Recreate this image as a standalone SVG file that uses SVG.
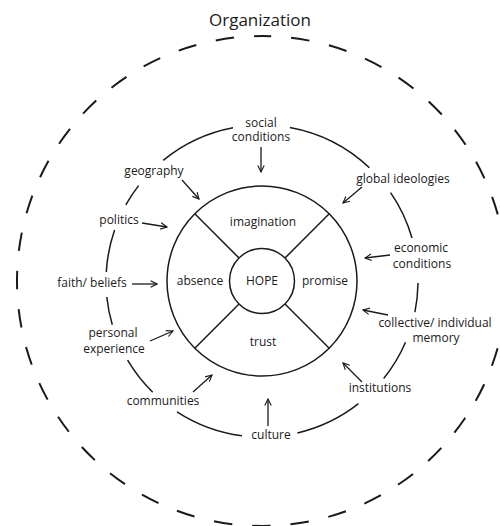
<svg xmlns="http://www.w3.org/2000/svg" width="500" height="526" viewBox="0 0 500 526">
<style>
text{font-family:"Open Sans","Liberation Sans",sans-serif;font-size:12px;fill:#1a1a1a;text-anchor:middle}
.title{font-size:17px}
.line{fill:none;stroke:#1a1a1a;stroke-width:1.5}
.dash{fill:none;stroke:#1a1a1a;stroke-width:2;stroke-dasharray:18.5 20;stroke-dashoffset:9.25}
.arr{fill:none;stroke:#1a1a1a;stroke-width:1.3;marker-end:url(#ah)}
</style>
<defs>
<marker id="ah" viewBox="0 0 10 10" refX="9" refY="5" markerWidth="8" markerHeight="8" markerUnits="userSpaceOnUse" orient="auto">
<path d="M1,1 L9,5 L1,9" fill="none" stroke="#1a1a1a" stroke-width="1.4"/>
</marker>
</defs>
<rect width="500" height="526" fill="#fff"/>
<g id="organization">
<path class="dash" d="M262 36 A245 245 0 1 1 262 526 A245 245 0 1 1 262 36"/>
<text class="title" x="260" y="26">Organization</text>
</g>
<g id="outer-ring">
<path class="line" d="M163.2 160.3 A156 156 0 0 1 233.0 127.7"/>
<path class="line" d="M125.8 204.9 A156 156 0 0 1 138.6 185.6"/>
<path class="line" d="M106.3 272.0 A156 156 0 0 1 114.6 230.0"/>
<path class="line" d="M112.3 324.8 A156 156 0 0 1 106.8 297.0"/>
<path class="line" d="M152.7 392.3 A156 156 0 0 1 127.6 360.2"/>
<path class="line" d="M241.9 435.7 A156 156 0 0 1 177.0 411.8"/>
<path class="line" d="M358.5 403.6 A156 156 0 0 1 297.4 432.9"/>
<path class="line" d="M405.5 342.2 A156 156 0 0 1 383.7 378.5"/>
<path class="line" d="M418.0 282.9 A156 156 0 0 1 414.9 312.1"/>
<path class="line" d="M390.6 192.6 A156 156 0 0 1 412.0 238.0"/>
<path class="line" d="M289.9 127.5 A156 156 0 0 1 369.4 167.8"/>
</g>
<g id="middle-ring">
<circle class="line" cx="262" cy="281" r="95"/>
<line class="line" x1="194.8" y1="213.8" x2="239.0" y2="258.0"/>
<line class="line" x1="329.2" y1="213.8" x2="285.0" y2="258.0"/>
<line class="line" x1="194.8" y1="348.2" x2="239.0" y2="304.0"/>
<line class="line" x1="329.2" y1="348.2" x2="285.0" y2="304.0"/>
<text x="263" y="226">imagination</text>
<text x="200" y="285">absence</text>
<text x="325" y="285">promise</text>
<text x="263" y="346">trust</text>
</g>
<g id="hope">
<circle class="line" cx="262" cy="281" r="32.5"/>
<text x="262" y="285">HOPE</text>
</g>
<g id="connectors">
<line class="arr" x1="261" y1="147" x2="261" y2="172"/>
<line class="arr" x1="182" y1="180" x2="199" y2="199"/>
<line class="arr" x1="142" y1="223" x2="167" y2="227"/>
<line class="arr" x1="132" y1="284" x2="157" y2="284"/>
<line class="arr" x1="150" y1="341" x2="173" y2="331"/>
<line class="arr" x1="193" y1="392" x2="212" y2="375"/>
<line class="arr" x1="268" y1="426" x2="268" y2="399"/>
<line class="arr" x1="362" y1="382" x2="343" y2="363"/>
<line class="arr" x1="388" y1="315" x2="363" y2="310"/>
<line class="arr" x1="390" y1="255" x2="365" y2="258"/>
<line class="arr" x1="362" y1="187" x2="343" y2="203"/>
</g>
<g id="social-conditions"><text x="261" y="127">social</text><text x="261" y="141">conditions</text></g>
<g id="geography"><text x="154" y="175">geography</text></g>
<g id="politics"><text x="119" y="224">politics</text></g>
<g id="faith-beliefs"><text x="92" y="287">faith/ beliefs</text></g>
<g id="personal-experience"><text x="113" y="337">personal</text><text x="114" y="353">experience</text></g>
<g id="communities"><text x="163" y="405">communities</text></g>
<g id="culture"><text x="271" y="439">culture</text></g>
<g id="institutions"><text x="380" y="392">institutions</text></g>
<g id="collective-memory"><text x="435" y="327">collective/ individual</text><text x="436" y="342">memory</text></g>
<g id="economic-conditions"><text x="421" y="252">economic</text><text x="422" y="268">conditions</text></g>
<g id="global-ideologies"><text x="403" y="183">global ideologies</text></g>
</svg>
